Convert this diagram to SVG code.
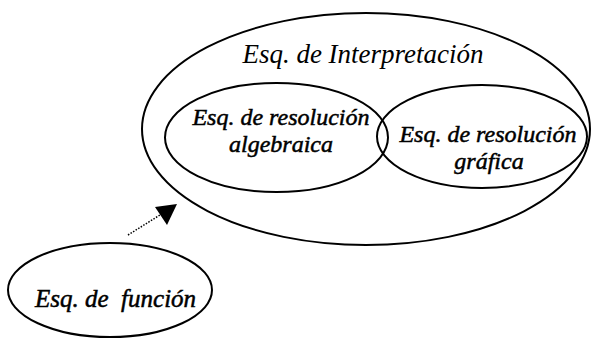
<svg xmlns="http://www.w3.org/2000/svg" width="591" height="340" viewBox="0 0 591 340">
<style>
.e{fill:none;stroke:#000;stroke-width:2}
.t{font-family:"Liberation Serif","Times New Roman",serif;font-style:italic;fill:#000}
.b{stroke:#000;stroke-width:0.5}
</style>
<rect width="591" height="340" fill="#fff"/>
<g id="interpretacion">
<ellipse class="e" cx="366" cy="129" rx="224" ry="116"/>
<text class="t" x="363" y="63" font-size="27" text-anchor="middle">Esq. de Interpretación</text>
</g>
<g id="algebraica">
<ellipse class="e" cx="276.5" cy="137.5" rx="111.5" ry="54.5"/>
<text class="t b" x="281" y="125" font-size="24" text-anchor="middle">Esq. de resolución</text>
<text class="t b" x="281" y="152" font-size="24" text-anchor="middle">algebraica</text>
</g>
<g id="grafica">
<ellipse class="e" cx="482" cy="136.5" rx="105" ry="51.5"/>
<text class="t b" x="488" y="142" font-size="24" text-anchor="middle">Esq. de resolución</text>
<text class="t b" x="489" y="169" font-size="24" text-anchor="middle">gráfica</text>
</g>
<g id="funcion">
<ellipse class="e" cx="110" cy="290" rx="102" ry="47"/>
<text class="t b" x="35" y="307" font-size="25" style="white-space:pre">Esq. de  función</text>
</g>
<g id="connectors">
<line x1="128" y1="235" x2="160" y2="215" stroke="#000" stroke-width="1.5" stroke-dasharray="1.5 1.5"/>
<polygon points="177,204 155,207 167,225" fill="#000"/>
</g>
</svg>
